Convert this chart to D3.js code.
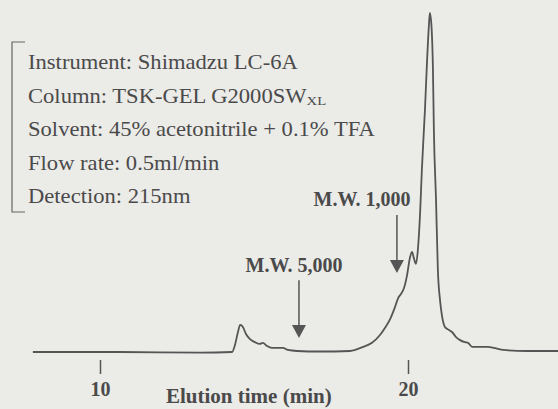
<!DOCTYPE html>
<html>
<head>
<meta charset="utf-8">
<script src="https://cdn.jsdelivr.net/npm/d3@7"></script>
<style>
  body { margin: 0; background: #ebebe8; }
  svg { display: block; font-family: "Liberation Serif", "Times New Roman", serif; }
</style>
</head>
<body>
<div id="chart"></div>
<script>
// elution time (min) and detector signal (arbitrary units, main peak = 100)
const times = [7.82, 10.65, 13.25, 14.29, 14.38, 14.48, 14.55, 14.64, 14.74, 14.87, 15.03, 15.19, 15.29,
  15.42, 15.58, 15.78, 15.94, 16.10, 16.40, 17.14, 18.12, 18.54, 18.83, 19.09, 19.25, 19.42, 19.58,
  19.68, 19.77, 19.87, 19.97, 20.06, 20.13, 20.19, 20.26, 20.32, 20.39, 20.45, 20.55, 20.62, 20.68,
  20.71, 20.76, 20.81, 20.84, 20.91, 20.97, 21.04, 21.10, 21.20, 21.33, 21.43, 21.56, 21.69, 21.85,
  21.95, 22.08, 22.60, 23.08, 23.86, 24.87];
const signal = [0, 0, -0.2, 0, 2, 5.9, 8.0, 7.4, 5.3, 3.8, 2.9, 2.4, 2.7,
  1.8, 1.2, 1.2, 1.2, 0.6, 0.3, 0.15, 0.3, 1.5, 2.7, 5.0, 7.1, 9.7, 13.3,
  15.9, 17.1, 18.9, 22.7, 27.7, 29.5, 27.7, 26.0, 30.1, 40.4, 53.7, 71.4, 86.1, 96.5,
  100, 96.5, 83.2, 65.5, 44.8, 24.2, 15.3, 10.9, 7.4, 6.5, 5.9, 4.4, 3.5, 2.9,
  2.7, 1.5, 1.5, 0.6, 0.3, 0.3];

const tickValues = [10, 20];

// molecular weight markers
const markerLabels = ["M.W. 5,000", "M.W. 1,000"];
const markerTimes = [16.46, 19.64];
const markerLabelTimes = [16.30, 18.51];
const markerTop = [21.2, 40.4];
const markerTip = [4.1, 23.3];
const markerLabelLevel = [23.6, 43.1];

const conditions = [
  "Instrument: Shimadzu LC-6A",
  "Column: TSK-GEL G2000SW",
  "Solvent: 45% acetonitrile + 0.1% TFA",
  "Flow rate: 0.5ml/min",
  "Detection: 215nm"
];

const w = 558, h = 409;
const ink = "#4a4a4a";

const svg = d3.select("#chart").append("svg")
  .attr("width", w)
  .attr("height", h);

svg.append("rect").attr("width", w).attr("height", h).attr("fill", "#ebebe8");

const x = d3.scaleLinear().domain([10, 20]).range([100, 408]);
const y = d3.scaleLinear().domain([0, 100]).range([352, 13]);

const data = times.map((t, i) => ({ t: t, s: signal[i] }));

const line = d3.line()
  .x(d => x(d.t))
  .y(d => y(d.s))
  .curve(d3.curveMonotoneX);

svg.append("path")
  .datum(data)
  .attr("fill", "none")
  .attr("stroke", "#555")
  .attr("stroke-width", 1.8)
  .attr("stroke-linejoin", "round")
  .attr("d", line);

// axis: only short ticks with labels, no domain line
const axis = svg.append("g")
  .attr("transform", "translate(0,360)")
  .call(d3.axisBottom(x).tickValues(tickValues).tickSize(14).tickPadding(8).tickFormat(d3.format("d")));
axis.select(".domain").remove();
axis.selectAll(".tick line").attr("stroke", "#555").attr("stroke-width", 1.5);
axis.selectAll(".tick text")
  .attr("fill", ink)
  .attr("font-family", "Liberation Serif, serif")
  .attr("font-size", 20)
  .attr("font-weight", "bold");

svg.append("text")
  .attr("x", 166)
  .attr("y", 403)
  .attr("fill", ink)
  .attr("font-size", 21)
  .attr("font-weight", "bold")
  .text("Elution time (min)");

// markers
markerTimes.forEach((t, i) => {
  const cx = x(t);
  const y0 = y(markerTop[i]);
  const y1 = y(markerTip[i]);
  svg.append("line")
    .attr("x1", cx).attr("x2", cx)
    .attr("y1", y0).attr("y2", y1 - 12)
    .attr("stroke", "#555")
    .attr("stroke-width", 1.5);
  svg.append("path")
    .attr("d", `M${cx - 7},${y1 - 13} L${cx + 7},${y1 - 13} L${cx},${y1} Z`)
    .attr("fill", "#555");
  svg.append("text")
    .attr("x", x(markerLabelTimes[i]))
    .attr("y", y(markerLabelLevel[i]))
    .attr("text-anchor", "middle")
    .attr("fill", ink)
    .attr("font-size", 20)
    .attr("font-weight", "bold")
    .text(markerLabels[i]);
});

// conditions box with bracket
svg.append("path")
  .attr("d", "M25,42 H12 V212 H25")
  .attr("fill", "none")
  .attr("stroke", "#666")
  .attr("stroke-width", 1.2);

// the scanned type is a little wider than Liberation Serif, so stretch it sideways
const cond = svg.append("g").attr("fill", ink).attr("font-size", 20);
conditions.forEach((c, i) => {
  const t = cond.append("text")
    .attr("transform", `translate(28,${69 + i * 33.5}) scale(1.13,1)`)
    .text(c);
  if (i === 1) {
    t.append("tspan").attr("font-size", 13).attr("dy", 2).text("XL");
  }
});
</script>
</body>
</html>
